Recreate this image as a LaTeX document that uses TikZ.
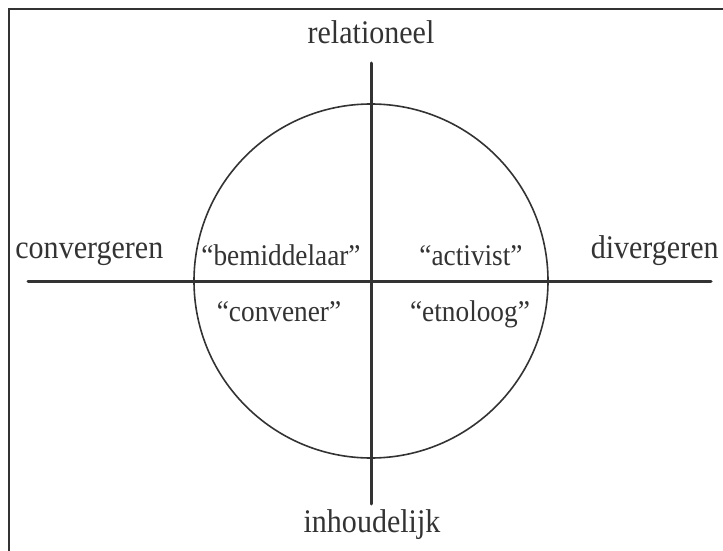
\documentclass[tikz,border=0pt]{standalone}
\usepackage{fontspec}
\setmainfont{Liberation Serif}[FakeStretch=0.91]
\usepackage{xcolor}
\definecolor{ink}{HTML}{333333}

\begin{document}
\begin{tikzpicture}[
  x=0.5pt, y=-0.5pt,
  ax/.style = {line width=1.5pt, draw=ink, line cap=round},
  lbl/.style = {font=\fontsize{16.5}{20}\selectfont, text=ink, inner sep=0pt, anchor=base},
  qlbl/.style = {font=\fontsize{15}{18}\selectfont, text=ink, inner sep=0pt, anchor=base}
]
  \useasboundingbox (0,0) rectangle (723,551);
  \clip (0,0) rectangle (723,551);

  % frame, only top and left edges are in view
  \draw[line width=1.25pt, draw=ink] (9,9) rectangle (740,570);

  % axes and circle
  \coordinate (o) at (371,281);
  \coordinate (top) at (371,63);
  \coordinate (bot) at (371,504);
  \coordinate (west) at (28,281);
  \coordinate (east) at (711,281);
  \draw[ax] (top) -- (bot);
  \draw[ax] (west) -- (east);
  \draw[line width=0.8pt, draw=ink] (o) circle[radius=88.5pt];

  % axis ends
  \node[lbl] (rel) at (371,44) {relationeel};
  \node[lbl] (inh) at (372,532) {inhoudelijk};
  \node[lbl, anchor=base west] (conv) at (15,258) {convergeren};
  \node[lbl, anchor=base east] (div) at (719,258) {divergeren};

  % four roles
  \foreach \nm/\x/\y/\txt in {
    bem/281/265/bemiddelaar,
    act/471/265/activist,
    con/279/321/convener,
    etn/470/321/etnoloog%
  }{
    \node[qlbl] (\nm) at (\x,\y) {“\txt”};
  }
\end{tikzpicture}
\end{document}
